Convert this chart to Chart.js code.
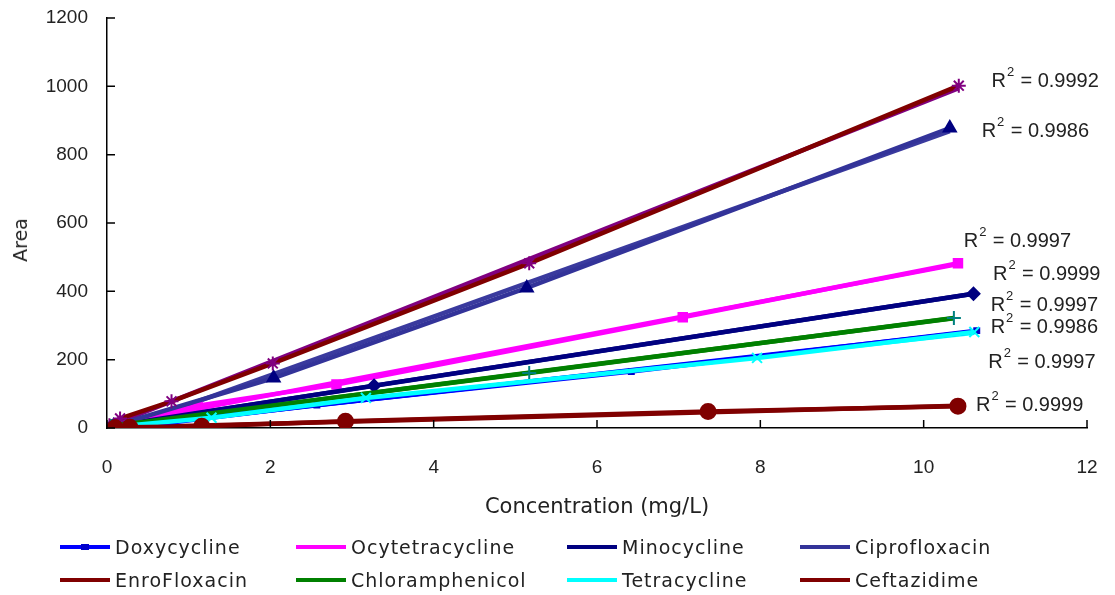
<!DOCTYPE html>
<html>
<head>
<meta charset="utf-8">
<script src="https://cdn.jsdelivr.net/npm/chart.js@4.4.1/dist/chart.umd.min.js"></script>
<style>
  body { margin: 0; background: #fff; }
  #wrap { position: relative; width: 1115px; height: 595px; }
  .item { position: absolute; height: 24px; font: 19px "DejaVu Sans", sans-serif; letter-spacing: 1px; color: #222; white-space: nowrap; }
  .item .ln { position: absolute; left: 0; top: 10px; width: 50px; height: 4px; }
  .item .mk { position: absolute; left: 21px; top: 9px; width: 8px; height: 6px; }
  .item span { position: absolute; left: 55px; top: 0; line-height: 24px; }
  #ytitle { position: absolute; left: 20px; top: 240px; transform: translate(-50%, -50%) rotate(-90deg);
            font: 19px "DejaVu Sans", sans-serif; color: #222; white-space: nowrap; }
</style>
</head>
<body>
<div id="wrap">
  <canvas id="chart" width="1115" height="595"></canvas>
  <div id="ytitle">Area</div>
  <div id="legend"></div>
</div>
<script>
// series names, in legend order
var names = ["Doxycycline", "Ocytetracycline", "Minocycline", "Ciprofloxacin",
             "EnroFloxacin", "Chloramphenicol", "Tetracycline", "Ceftazidime"];

// concentration (mg/L) and peak area
var doxyX  = [0.06, 0.63, 2.57, 6.42, 10.65];
var doxyY  = [3, 12, 67, 165, 285];
var ocyX   = [0.11, 1.11, 2.81, 7.05, 10.42];
var ocyY   = [8, 65, 127, 324, 482];
var minoX  = [0.05, 3.27, 10.61];
var minoY  = [5, 124, 393];
var ciproX = [0.08, 2.04, 5.14, 10.32];
var ciproY = [6, 146, 410, 878];
var enroX  = [0.03, 0.16, 0.79, 2.03, 5.17, 10.43];
var enroY  = [8, 28, 78, 189, 482, 1002];
var chloX  = [0.05, 5.17, 10.37];
var chloY  = [6, 161, 322];
var tetraX = [0.1, 1.28, 3.17, 7.96, 10.62];
var tetraY = [4, 30, 88, 205, 281];
var ceftX  = [0.1, 0.28, 1.16, 2.92, 7.36, 10.42];
var ceftY  = [1, 2, 5, 20, 48, 64];

// R squared of each trend line and where its label sits (data units)
var r2Text = ["0.9992", "0.9986", "0.9997", "0.9999", "0.9997", "0.9986", "0.9997", "0.9999"];
var r2AtX  = [10.83, 10.71, 10.49, 10.85, 10.82, 10.82, 10.79, 10.64];
var r2AtY  = [1014, 867, 545, 449, 358, 293, 191, 65];

var xs = [doxyX, ocyX, minoX, ciproX, enroX, chloX, tetraX, ceftX];
var ys = [doxyY, ocyY, minoY, ciproY, enroY, chloY, tetraY, ceftY];

var lineColor  = ["#0000FF", "#FF00FF", "#000080", "#333399", "#800000", "#008000", "#00FFFF", "#800000"];
var trendColor = ["#0000FF", "#FF00FF", "#000080", "#3A3A9E", "#800080", "#008000", "#00FFFF", "#800000"];
var markColor  = ["#0000CC", "#FF00FF", "#000080", "#000080", "#800080", "#008080", "#00FFFF", "#800000"];
var markStyle  = ["rect", "rect", "rectRot", "triangle", "star", "cross", "crossRot", "circle"];
var markSize   = [3.5, 6, 6, 7, 7, 7, 7, 7.5];

function fit(x, y) {
  var n = x.length, sx = 0, sy = 0, sxx = 0, sxy = 0;
  for (var i = 0; i < n; i++) { sx += x[i]; sy += y[i]; sxx += x[i] * x[i]; sxy += x[i] * y[i]; }
  var b = (n * sxy - sx * sy) / (n * sxx - sx * sx);
  var a = (sy - b * sx) / n;
  var x0 = Math.min.apply(null, x), x1 = Math.max.apply(null, x);
  return [{x: x0, y: a + b * x0}, {x: x1, y: a + b * x1}];
}

var datasets = [];
names.forEach(function (name, i) {
  datasets.push({
    label: name + " trend",
    data: fit(xs[i], ys[i]),
    borderColor: trendColor[i],
    borderWidth: 4.5,
    pointRadius: 0,
    showLine: true,
    order: 20 + i
  });
});
names.forEach(function (name, i) {
  datasets.push({
    label: name,
    data: xs[i].map(function (v, k) { return {x: v, y: ys[i][k]}; }),
    borderColor: lineColor[i],
    borderWidth: 4.5,
    showLine: true,
    pointStyle: markStyle[i],
    pointRadius: markSize[i],
    pointBackgroundColor: markColor[i],
    pointBorderColor: markColor[i],
    pointBorderWidth: 2,
    order: 10 - i
  });
});

// R^2 labels drawn next to the line ends
var r2Labels = {
  id: "r2Labels",
  afterDatasetsDraw: function (chart) {
    var ctx = chart.ctx, sx = chart.scales.x, sy = chart.scales.y;
    ctx.save();
    ctx.fillStyle = "#222";
    ctx.textBaseline = "middle";
    r2Text.forEach(function (t, i) {
      var px = sx.getPixelForValue(r2AtX[i]);
      var py = sy.getPixelForValue(r2AtY[i]);
      ctx.font = "20px 'Liberation Sans', Arial, sans-serif";
      ctx.fillText("R", px, py);
      var w = ctx.measureText("R").width;
      ctx.font = "13px 'Liberation Sans', Arial, sans-serif";
      ctx.fillText("2", px + w + 1, py - 9);
      ctx.font = "20px 'Liberation Sans', Arial, sans-serif";
      ctx.fillText(" = " + t, px + w + 9, py);
    });
    ctx.restore();
  }
};

// tick marks pointing into the plot, as in the original
var innerTicks = {
  id: "innerTicks",
  afterDraw: function (chart) {
    var ctx = chart.ctx, a = chart.chartArea;
    ctx.save();
    ctx.strokeStyle = "#000";
    ctx.lineWidth = 1.5;
    ctx.beginPath();
    chart.scales.x.ticks.forEach(function (t) {
      var p = chart.scales.x.getPixelForValue(t.value);
      ctx.moveTo(p, a.bottom); ctx.lineTo(p, a.bottom - 8);
    });
    chart.scales.y.ticks.forEach(function (t) {
      var p = chart.scales.y.getPixelForValue(t.value);
      ctx.moveTo(a.left, p); ctx.lineTo(a.left + 8, p);
    });
    ctx.stroke();
    ctx.restore();
  }
};

var tickFont = {family: "'Liberation Sans', Arial, sans-serif", size: 19};
function plain(v) { return String(v); }

new Chart(document.getElementById("chart"), {
  type: "scatter",
  data: {datasets: datasets},
  options: {
    responsive: false,
    animation: false,
    layout: {autoPadding: false, padding: {left: 0, top: 18, right: 28, bottom: 67}},
    plugins: {legend: {display: false}, tooltip: {enabled: false}},
    scales: {
      x: {
        type: "linear", min: 0, max: 12,
        ticks: {stepSize: 2, color: "#222", font: tickFont, padding: 28, callback: plain},
        grid: {drawOnChartArea: false, drawTicks: false},
        border: {display: true, color: "#000", width: 1.5},
        title: {display: true, text: "Concentration (mg/L)", color: "#222",
                font: {family: "'DejaVu Sans', sans-serif", size: 21}, padding: {bottom: 8}},
        afterFit: function (s) { s.height = 100; s.paddingLeft = 0; s.paddingRight = 0; }
      },
      y: {
        min: 0, max: 1200,
        ticks: {stepSize: 200, color: "#222", font: tickFont, padding: 19, callback: plain},
        grid: {drawOnChartArea: false, drawTicks: false},
        border: {display: true, color: "#000", width: 1.5},
        afterFit: function (s) { s.width = 107; s.paddingTop = 0; s.paddingBottom = 0; }
      }
    }
  },
  plugins: [r2Labels, innerTicks]
});

// legend laid out as a 4 x 2 grid like the original
var legLeft = [60, 296, 567, 800];
var legTop  = [535, 568];
var legend = document.getElementById("legend");
names.forEach(function (name, i) {
  var d = document.createElement("div");
  d.className = "item";
  d.style.left = legLeft[i % 4] + "px";
  d.style.top = legTop[Math.floor(i / 4)] + "px";
  var html = '<div class="ln" style="background:' + lineColor[i] + '"></div>';
  if (i === 0) html += '<div class="mk" style="background:' + markColor[i] + '"></div>';
  html += '<span>' + name + '</span>';
  d.innerHTML = html;
  legend.appendChild(d);
});
</script>
</body>
</html>
